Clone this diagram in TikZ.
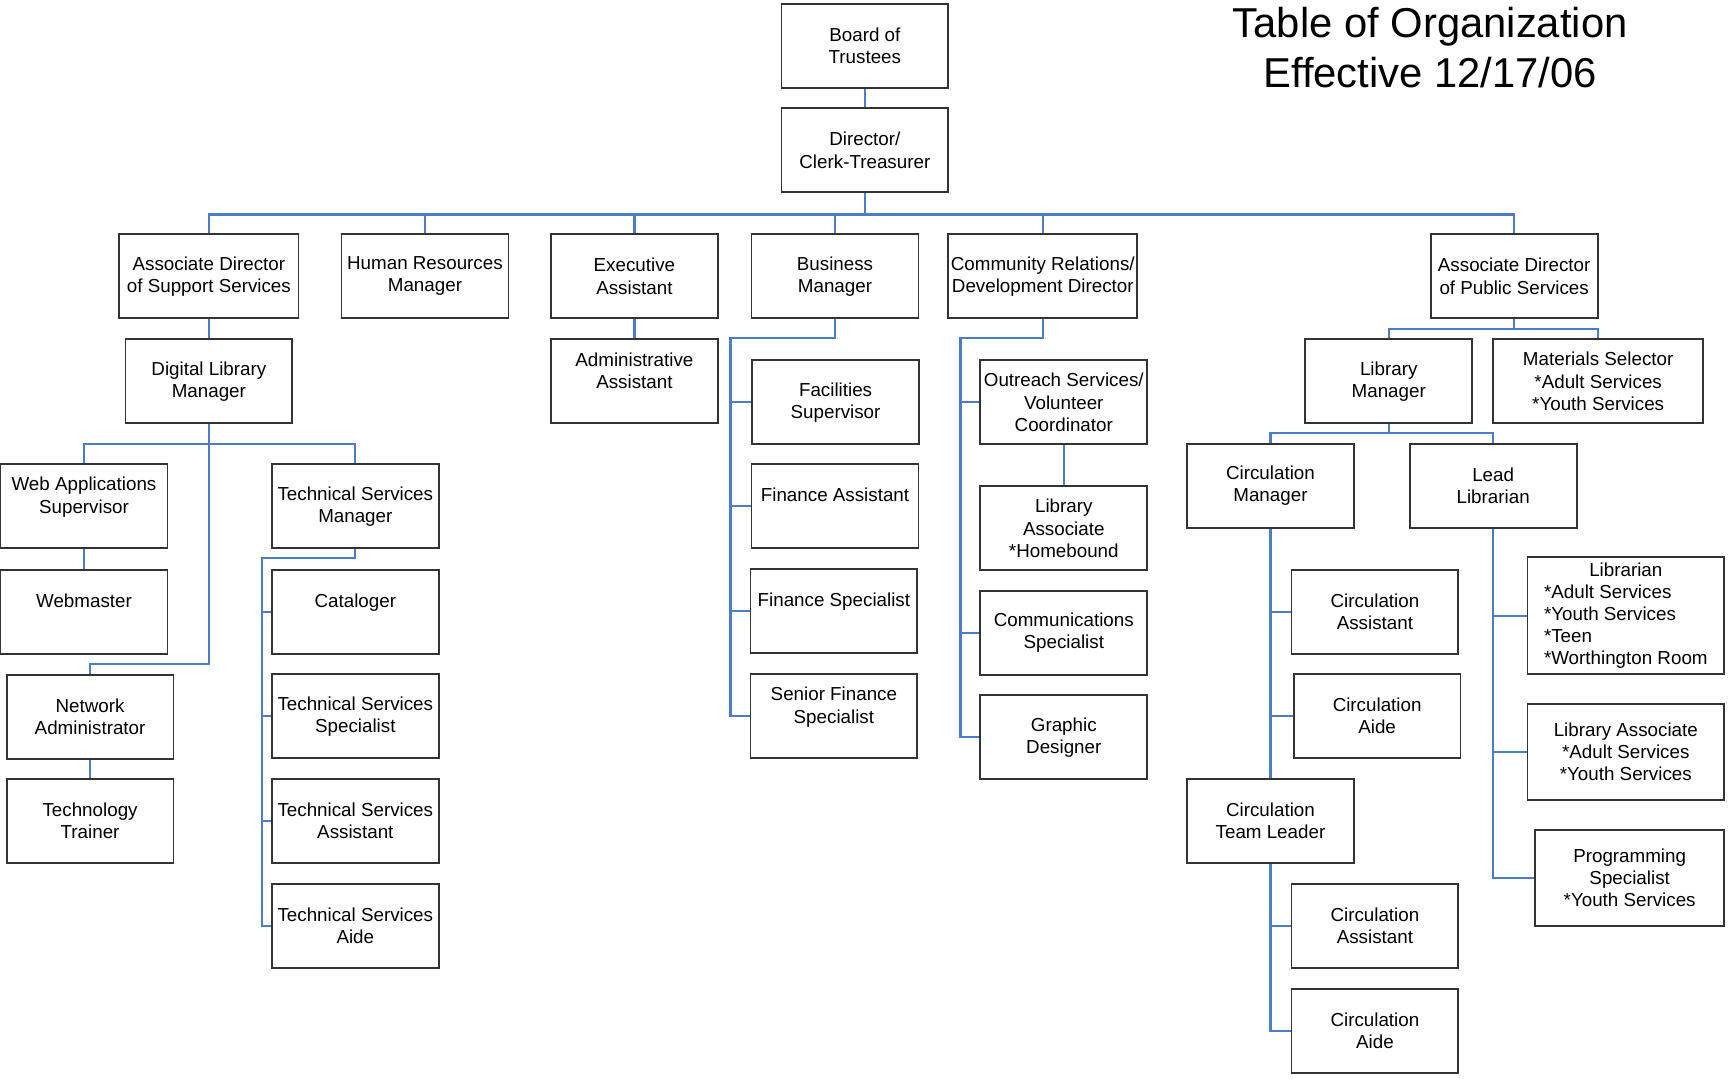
\documentclass[tikz,border=0pt]{standalone}
\usepackage{fontspec}
\setmainfont{Liberation Sans}
\definecolor{linkblue}{RGB}{74,124,200}
\newcommand{\boxfont}{\fontsize{8.5}{10}\selectfont}
\newcommand{\titlefont}{\fontsize{18.9}{23}\selectfont}

\begin{document}
\begin{tikzpicture}[x=0.5pt, y=-0.5pt,
    box/.style={draw=black!80, line width=0.8pt, fill=white, minimum width=75.5pt,
      minimum height=38pt, inner sep=1pt, align=center, font=\boxfont},
    link/.style={draw=linkblue, line width=1pt}]
  \useasboundingbox (0,0) rectangle (1568,976);

  \node[align=center, font=\titlefont] (title) at (1294,43) {Table of Organization\\Effective 12/17/06};

  \node[box] (board) at (782.5,41.5) {Board of\\Trustees};
  \node[box] (dir) at (782.5,136) {Director/\\Clerk-Treasurer};

  \node[box, minimum width=81pt] (asup) at (189,250) {Associate Director\\of Support Services};
  \node[box] (hr) at (384.5,250) {Human Resources\\Manager};
  \node[box] (exec) at (574,250) {Executive\\Assistant};
  \node[box] (busm) at (755.5,250) {Business\\Manager};
  \node[box, minimum width=85.5pt] (comm) at (943.5,250) {Community Relations/\\Development Director};
  \node[box] (apub) at (1370,250) {Associate Director\\of Public Services};

  \node[box] (dlm) at (189,345) {Digital Library\\Manager};
  \node[box] (admin) at (574,345) {Administrative\\Assistant\\\mbox{}};
  \node[box] (libman) at (1256.5,345) {Library\\Manager};
  \node[box, minimum width=95pt] (matsel) at (1446,345) {Materials Selector\\*Adult Services\\*Youth Services};

  \node[box] (webapp) at (76,458) {Web Applications\\Supervisor\\\mbox{}};
  \node[box] (webm) at (76,553.5) {Webmaster\\\mbox{}};
  \node[box] (netadm) at (81.5,648.5) {Network\\Administrator};
  \node[box] (techtr) at (81.5,743) {Technology\\Trainer};

  \node[box] (tsm) at (321.5,458) {Technical Services\\Manager};
  \node[box] (catal) at (321.5,553.5) {Cataloger\\\mbox{}};
  \node[box] (tsspec) at (321.5,648) {Technical Services\\Specialist};
  \node[box] (tsasst) at (321.5,743) {Technical Services\\Assistant};
  \node[box] (tsaide) at (321.5,838) {Technical Services\\Aide};

  \node[box] (fac) at (756,364) {Facilities\\Supervisor};
  \node[box] (finasst) at (755.5,458) {Finance Assistant\\\mbox{}};
  \node[box] (finspec) at (754.5,553) {Finance Specialist\\\mbox{}};
  \node[box] (senfin) at (754.5,648) {Senior Finance\\Specialist\\\mbox{}};

  \node[box] (outr) at (962.5,364) {Outreach Services/\\Volunteer\\Coordinator};
  \node[box] (homeb) at (962.5,478) {Library\\Associate\\*Homebound};
  \node[box] (comms) at (962.5,572.5) {Communications\\Specialist};
  \node[box] (graph) at (962.5,667) {Graphic\\Designer};

  \node[box] (circman) at (1149.5,439.5) {Circulation\\Manager};
  \node[box] (leadlib) at (1351,439.5) {Lead\\Librarian};
  \node[box] (circasstA) at (1244,553.5) {Circulation\\Assistant};
  \node[box] (circaideA) at (1246,648) {Circulation\\Aide};
  \node[box] (teamlead) at (1149.5,743) {Circulation\\Team Leader};
  \node[box] (circasstB) at (1244,838) {Circulation\\Assistant};
  \node[box] (circaideB) at (1244,933) {Circulation\\Aide};

  \node[box, minimum width=89pt, minimum height=53pt] (librn) at (1471,557)
    {Librarian\\\makebox[74pt][l]{*Adult Services}\\\makebox[74pt][l]{*Youth Services}\\\makebox[74pt][l]{*Teen}\\\makebox[74pt][l]{*Worthington Room}};
  \node[box, minimum width=89pt, minimum height=43.5pt] (libassoc) at (1471,680.5) {Library Associate\\*Adult Services\\*Youth Services};
  \node[box, minimum width=85.5pt, minimum height=43.5pt] (progspec) at (1474.5,794.5) {Programming\\Specialist\\*Youth Services};

  \coordinate (mainbus) at (0,194);
  \coordinate (dlmbus) at (0,402);
  \coordinate (netbend) at (0,601);
  \coordinate (tsmbend) at (237,505);
  \coordinate (busbend) at (661,306);
  \coordinate (commbend) at (869,306);
  \coordinate (pubbus) at (0,298);
  \coordinate (libbus) at (0,392);

  \draw[link] (board) -- (dir);
  \draw[link] (dir.south) -- (dir.south |- mainbus) -| (asup.north)
    (dir.south |- mainbus) -| (hr.north) (dir.south |- mainbus) -| (exec.north)
    (dir.south |- mainbus) -| (busm.north) (dir.south |- mainbus) -| (comm.north)
    (dir.south |- mainbus) -| (apub.north);

  \draw[link] (asup) -- (dlm);
  \draw[link] (exec) -- (admin);
  \draw[link] (dlm.south) -- (dlm.south |- dlmbus) -| (webapp.north) (dlm.south |- dlmbus) -| (tsm.north);
  \draw[link] (dlm.south) -- (dlm.south |- netbend) -| (netadm.north);
  \draw[link] (webapp) -- (webm);
  \draw[link] (netadm) -- (techtr);

  \draw[link] (tsm.south) |- (tsmbend) |- (tsaide.west);
  \draw[link] (tsmbend |- catal.west) -- (catal.west) (tsmbend |- tsspec.west) -- (tsspec.west)
    (tsmbend |- tsasst.west) -- (tsasst.west);

  \draw[link] (busm.south) |- (busbend) |- (senfin.west);
  \draw[link] (busbend |- fac.west) -- (fac.west) (busbend |- finasst.west) -- (finasst.west)
    (busbend |- finspec.west) -- (finspec.west);

  \draw[link] (comm.south) |- (commbend) |- (graph.west);
  \draw[link] (commbend |- outr.west) -- (outr.west) (commbend |- comms.west) -- (comms.west);
  \draw[link] (outr) -- (homeb);

  \draw[link] (apub.south) -- (apub.south |- pubbus) -| (libman.north) (apub.south |- pubbus) -| (matsel.north);
  \draw[link] (libman.south) -- (libman.south |- libbus) -| (circman.north) (libman.south |- libbus) -| (leadlib.north);

  \draw[link] (circman) -- (teamlead);
  \draw[link] (circman.south |- circasstA.west) -- (circasstA.west) (circman.south |- circaideA.west) -- (circaideA.west);
  \draw[link] (teamlead.south) |- (circaideB.west) (teamlead.south |- circasstB.west) -- (circasstB.west);
  \draw[link] (leadlib.south) |- (progspec.west) (leadlib.south |- librn.west) -- (librn.west)
    (leadlib.south |- libassoc.west) -- (libassoc.west);
\end{tikzpicture}
\end{document}
